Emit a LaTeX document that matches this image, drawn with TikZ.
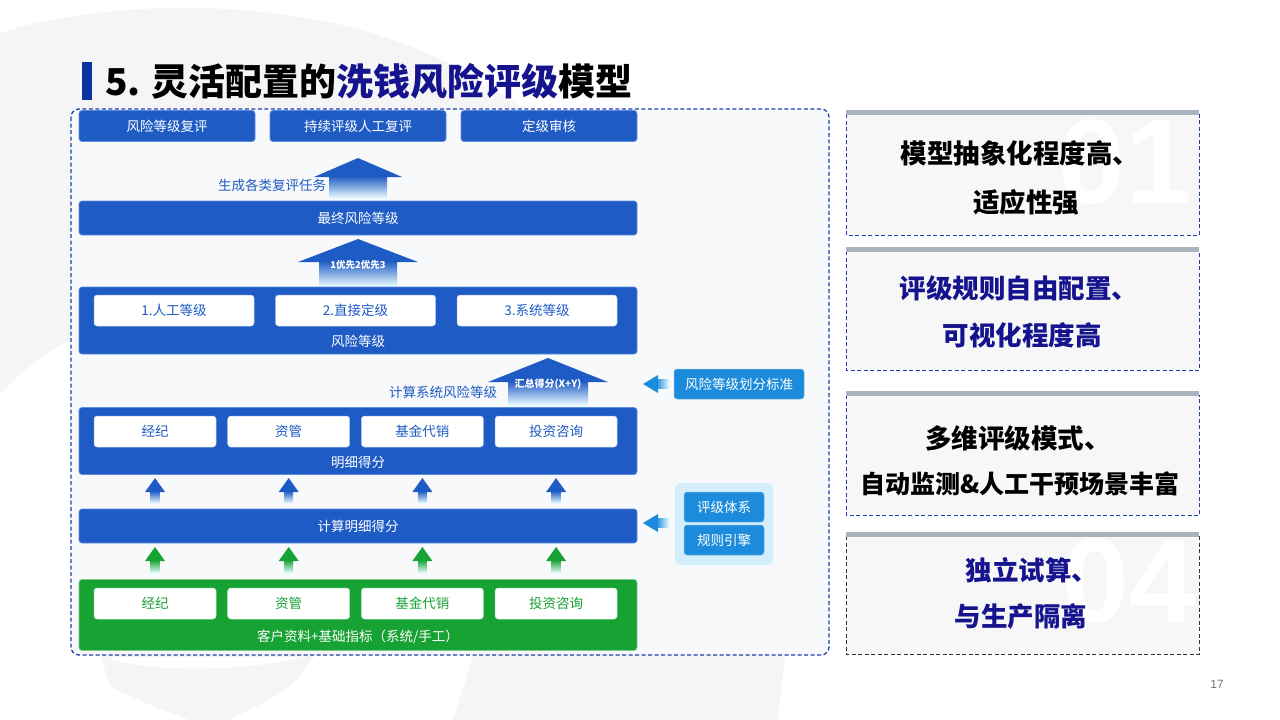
\documentclass[tikz,border=0pt]{standalone}
\usepackage{fontspec}
\setmainfont{Noto Sans CJK SC}
\newfontfamily\numfont{Liberation Sans}
\usetikzlibrary{positioning}

\definecolor{riskblue}{HTML}{1F5BC4}
\definecolor{edgeblue}{HTML}{5B8DE0}
\definecolor{skyblue}{HTML}{1C8BDB}
\definecolor{paleblue}{HTML}{D5EEFB}
\definecolor{fadeend}{HTML}{E9FBFF}
\definecolor{riskgreen}{HTML}{17A234}
\definecolor{edgegreen}{HTML}{7CCB8C}
\definecolor{titlebar}{HTML}{0B33A0}
\definecolor{navy}{HTML}{15148E}
\definecolor{cardgrey}{HTML}{AAB3BE}
\definecolor{dashblue}{HTML}{1F3FB0}
\definecolor{panelfill}{HTML}{F8F9FA}
\definecolor{cardfill}{HTML}{F7F7F7}
\definecolor{swoosh}{HTML}{F5F5F5}

% block arrow pointing up: x, tip y, head half width, head height, shaft half width, bottom y, colour
\newcommand{\upblock}[7]{%
  \shade[top color=#7, bottom color=fadeend] (#1-#5,#2+#4-1) rectangle (#1+#5,#6);
  \fill[#7] (#1,#2) -- (#1+#3,#2+#4) -- (#1-#3,#2+#4) -- cycle;}
% block arrow pointing left: tip x, y
\newcommand{\leftblock}[2]{%
  \shade[left color=skyblue, right color=fadeend] (#1+13,#2-4.5) rectangle (#1+26,#2+4.5);
  \fill[skyblue] (#1,#2) -- (#1+15,#2-9) -- (#1+15,#2+9) -- cycle;}

\begin{document}
\begin{tikzpicture}[x=1pt,y=-1pt,
  every node/.style={inner sep=0pt,outer sep=0pt},
  boxtext/.style={font=\fontsize{13.5}{16}\selectfont},
  bluebar/.style={boxtext,fill=riskblue,draw=edgeblue,line width=0.7pt,rounded corners=3pt,text=white},
  greenbar/.style={bluebar,fill=riskgreen,draw=edgegreen},
  whitebox/.style={boxtext,fill=white,draw=edgeblue!50,line width=0.5pt,rounded corners=3pt,text=riskblue,minimum height=31pt},
  skybox/.style={boxtext,fill=skyblue,draw=skyblue!60,line width=0.5pt,rounded corners=3pt,text=white},
  card/.style={fill=cardfill,dash pattern=on 4pt off 2.5pt,line width=0.8pt},
  cardtext/.style={font=\bfseries\fontsize{26.5}{30}\selectfont},
  watermark/.style={font=\numfont\bfseries\fontsize{120}{120}\selectfont,text=white},
  ]
  \useasboundingbox (0,0) rectangle (1280,720);
  \fill[white] (0,0) rectangle (1280,720);
  % faint background swooshes
  \fill[swoosh] (0,33) .. controls (120,-5) and (330,-5) .. (460,70) -- (560,130) -- (560,300)
    -- (70,340) .. controls (35,360) .. (0,393) -- cycle;
  \fill[swoosh] (100,655) -- (315,655) .. controls (290,690) .. (228,720) -- (190,720)
    .. controls (150,705) .. (111,687) -- cycle;
  \fill[white] (111,659) .. controls (160,674) and (250,670) .. (305,657) -- (111,657) -- cycle;
  \fill[swoosh] (473,655) .. controls (466,680) .. (453,720) -- (778,720) -- (785,655) -- cycle;

  % title
  \fill[titlebar] (82,62) rectangle (92,100);
  \node[anchor=west,font=\bfseries\fontsize{37}{40}\selectfont] (title) at (105,81)
    {5. 灵活配置的\textcolor{navy}{洗钱风险评级}模型};

  % model panel
  \draw[fill=panelfill,draw=dashblue,dash pattern=on 4pt off 2.5pt,line width=1.3pt,rounded corners=8pt]
    (71,109) rectangle (829,655);

  \foreach \t [count=\i] in {风险等级复评,持续评级人工复评,定级审核}
    \node[bluebar,minimum width=176pt,minimum height=31pt] (review\i) at (167+191*\i-191,126) {\t};

  \upblock{358}{158}{44}{19}{29}{198}{riskblue}
  \node[anchor=east,boxtext,text=riskblue] (tasks) at (326,185) {生成各类复评任务};

  \node[bluebar,minimum width=558pt,minimum height=34pt] (final) at (358,218) {最终风险等级};

  \upblock{358}{239}{60}{23}{39}{286}{riskblue}
  \node[font=\bfseries\fontsize{9.5}{11}\selectfont,text=white] (prio) at (358,265) {1优先2优先3};

  \node[bluebar,minimum width=558pt,minimum height=67pt] (risk) at (358,320.5) {};
  \node[boxtext,text=white,above=6pt of risk.south] (risklabel) {风险等级};
  \foreach \t [count=\i] in {1.人工等级,2.直接定级,3.系统等级}
    \node[whitebox,minimum width=160pt] (grade\i) at (174+181.5*\i-181.5,310.5) {\t};

  \upblock{548}{358}{60}{24}{40}{405}{riskblue}
  \node[font=\bfseries\fontsize{10}{12}\selectfont,text=white] (sum) at (548,384) {汇总得分(X+Y)};
  \node[anchor=east,boxtext,text=riskblue] (calcsys) at (497,392) {计算系统风险等级};

  \node[skybox,minimum width=130pt,minimum height=30pt] (standard) at (739,384) {风险等级划分标准};
  \leftblock{643}{384}

  \node[bluebar,minimum width=558pt,minimum height=67pt] (detail) at (358,441) {};
  \node[boxtext,text=white,above=6pt of detail.south] (detaillabel) {明细得分};
  \foreach \t [count=\i] in {经纪,资管,基金代销,投资咨询}
    \node[whitebox,minimum width=122pt] (biz\i) at (155+133.7*\i-133.7,431.5) {\t};

  \foreach \x in {155,288.7,422.4,556.1}{
    \upblock{\x}{478}{10}{14}{4.5}{503}{riskblue}
  }

  \node[bluebar,minimum width=558pt,minimum height=34pt] (calc) at (358,526) {计算明细得分};

  \foreach \x in {155,288.7,422.4,556.1}{
    \upblock{\x}{547}{10}{14}{4.5}{573}{riskgreen}
  }

  % rule engine
  \node[fill=paleblue,rounded corners=5pt,minimum width=98pt,minimum height=82pt] (engine) at (724,524) {};
  \node[skybox,minimum width=80pt,minimum height=30pt] (rating) at (724,507) {评级体系};
  \node[skybox,minimum width=80pt,minimum height=30pt] (rules) at (724,540) {规则引擎};
  \leftblock{643}{523}

  \node[greenbar,minimum width=558pt,minimum height=71pt] (base) at (358,615) {};
  \node[boxtext,text=white,above=7pt of base.south] (baselabel) {客户资料+基础指标（系统/手工）};
  \foreach \t [count=\i] in {经纪,资管,基金代销,投资咨询}
    \node[whitebox,text=riskgreen,draw=edgegreen!50,minimum width=122pt] (src\i) at (155+133.7*\i-133.7,603.5) {\t};

  % feature cards
  \foreach \ytop/\ybot/\dcol in {110/235/dashblue,247/370/dashblue,391/515/dashblue,532/654/black!80}{
    \draw[card,draw=\dcol] (846,\ytop+4) rectangle (1199,\ybot);
    \fill[cardgrey] (846,\ytop) rectangle (1199,\ytop+4.5);
  }
  \node[watermark,anchor=base east] (mark1) at (1192,203) {01};
  \node[watermark,anchor=base east] (mark4) at (1196,622) {04};
  \foreach \x/\y/\t/\c [count=\i] in {1020/153/模型抽象化程度高、/black,1026/202/适应性强/black,
      1019/288/评级规则自由配置、/navy,1022/335/可视化程度高/navy,
      1018/438/多维评级模式、/black,
      1032/570/独立试算、/navy,1021/616/与生产隔离/navy}
    \node[cardtext,text=\c] (point\i) at (\x,\y) {\t};
  \node[cardtext,font=\bfseries\fontsize{25}{30}\selectfont] (point8) at (1020,484) {自动监测\&人工干预场景丰富};

  \node[font=\numfont\fontsize{12}{14}\selectfont,text=black!55] (page) at (1217,684) {17};
\end{tikzpicture}
\end{document}
